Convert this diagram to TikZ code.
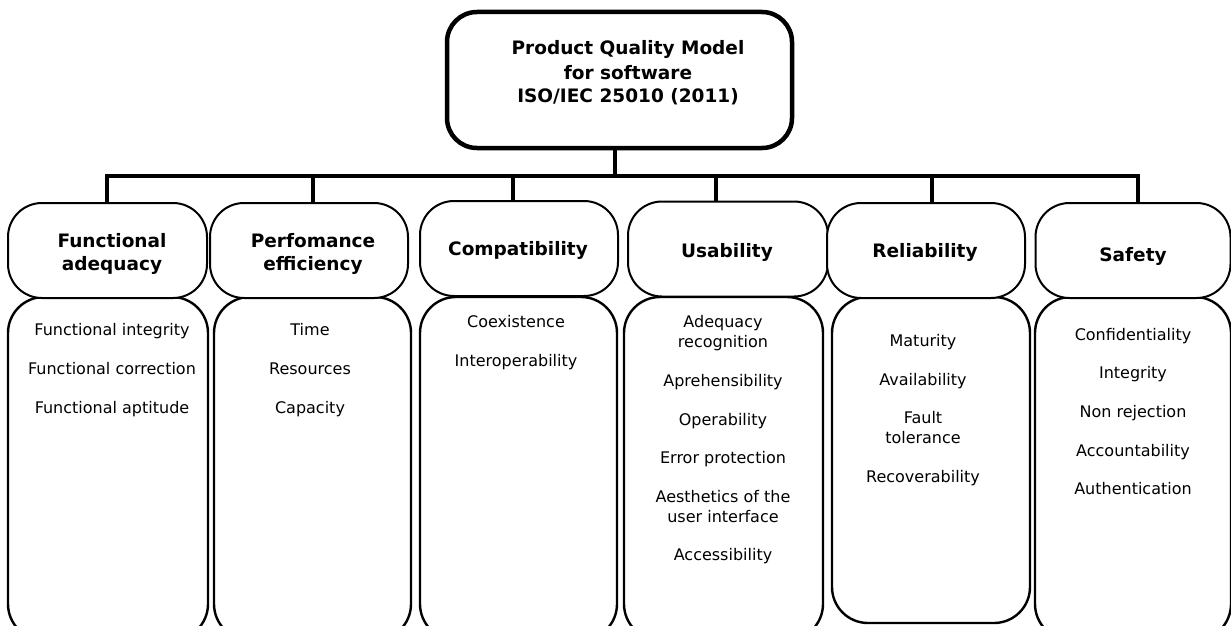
\documentclass[tikz,border=0pt]{standalone}
\usepackage{fontspec}
\setmainfont{DejaVu Sans}
\begin{document}
\begin{tikzpicture}[x=1pt,y=-1pt,
  topbox/.style={draw, line width=4.5pt, rounded corners=30pt, fill=white, inner sep=0pt},
  headbox/.style={draw, line width=2pt, rounded corners=34pt, fill=white, inner sep=0pt, minimum height=95pt},
  listbox/.style={draw, line width=2.4pt, rounded corners=36pt, fill=white, inner sep=0pt},
  bus/.style={line width=4pt},
  item/.style={font=\fontsize{16}{20}\selectfont, anchor=base, inner sep=0pt},
  head/.style={font=\bfseries\fontsize{18.5}{23}\selectfont, anchor=base, inner sep=0pt},
  title/.style={font=\bfseries\fontsize{18.5}{23}\selectfont, anchor=base, inner sep=0pt}
]
\useasboundingbox (0,0) rectangle (1231,626);
\clip (0,0) rectangle (1231,626);

% list boxes (drawn first, headers overlap them)
\node[listbox, minimum width=200pt, minimum height=343pt] (b1) at (108,468.5) {};
\node[listbox, minimum width=197pt, minimum height=343pt] (b2) at (312.5,468.5) {};
\node[listbox, minimum width=197pt, minimum height=343pt] (b3) at (518.5,468.5) {};
\node[listbox, minimum width=199pt, minimum height=343pt] (b4) at (723.5,468.5) {};
\node[listbox, minimum width=198pt, minimum height=326pt] (b5) at (931,460) {};
\node[listbox, minimum width=196pt, minimum height=343pt] (b6) at (1133,468.5) {};

% header boxes
\node[headbox, minimum width=199pt] (h1) at (107.5,250.5) {};
\node[headbox, minimum width=198pt] (h2) at (309,250.5) {};
\node[headbox, minimum width=198pt] (h3) at (519,248.5) {};
\node[headbox, minimum width=200pt] (h4) at (728,249) {};
\node[headbox, minimum width=198pt] (h5) at (926,250.5) {};
\node[headbox, minimum width=195pt] (h6) at (1133,250.5) {};

% top box
\node[topbox, minimum width=345pt, minimum height=136pt] (top) at (619.5,80) {};
\node[title] (t1) at (628,55) {Product Quality Model};
\node[title] (t2) at (628,79) {for software};
\node[title] (t3) at (628,102) {ISO/IEC 25010 (2011)};

% bus
\coordinate (j0) at (615,176);
\coordinate (j1) at (107,176);
\coordinate (j2) at (313,176);
\coordinate (j3) at (513,176);
\coordinate (j4) at (716,176);
\coordinate (j5) at (932,176);
\coordinate (j6) at (1138,176);
\draw[bus] (top.south -| j0) -- (j0);
\draw[bus, line join=miter] (j1 |- h1.north) -- (j1) -- (j6) -- (j6 |- h6.north);
\draw[bus] (j2) -- (j2 |- h2.north);
\draw[bus] (j3) -- (j3 |- h3.north);
\draw[bus] (j4) -- (j4 |- h4.north);
\draw[bus] (j5) -- (j5 |- h5.north);

% header texts
\node[head] (l1a) at (112,247) {Functional};
\node[head] (l1b) at (112,270) {adequacy};
\node[head] (l2a) at (313,247) {Perfomance};
\node[head] (l2b) at (313,270) {efficiency};
\node[head] (l3) at (518,255) {Compatibility};
\node[head] (l4) at (727,257) {Usability};
\node[head] (l5) at (925,257) {Reliability};
\node[head] (l6) at (1133,261) {Safety};

% items
\node[item] (i11) at (112,335) {Functional integrity};
\node[item] (i12) at (112,374) {Functional correction};
\node[item] (i13) at (112,413) {Functional aptitude};

\node[item] (i21) at (310,335) {Time};
\node[item] (i22) at (310,374) {Resources};
\node[item] (i23) at (310,413) {Capacity};

\node[item] (i31) at (516,327) {Coexistence};
\node[item] (i32) at (516,366) {Interoperability};

\node[item] (i41a) at (723,327) {Adequacy};
\node[item] (i41b) at (723,347) {recognition};
\node[item] (i42) at (723,386) {Aprehensibility};
\node[item] (i43) at (723,425) {Operability};
\node[item] (i44) at (723,463) {Error protection};
\node[item] (i45a) at (723,502) {Aesthetics of the};
\node[item] (i45b) at (723,522) {user interface};
\node[item] (i46) at (723,560) {Accessibility};

\node[item] (i51) at (923,346) {Maturity};
\node[item] (i52) at (923,385) {Availability};
\node[item] (i53a) at (923,423) {Fault};
\node[item] (i53b) at (923,443) {tolerance};
\node[item] (i54) at (923,482) {Recoverability};

\node[item] (i61) at (1133,340) {Confidentiality};
\node[item] (i62) at (1133,378) {Integrity};
\node[item] (i63) at (1133,417) {Non rejection};
\node[item] (i64) at (1133,456) {Accountability};
\node[item] (i65) at (1133,494) {Authentication};
\end{tikzpicture}
\end{document}
